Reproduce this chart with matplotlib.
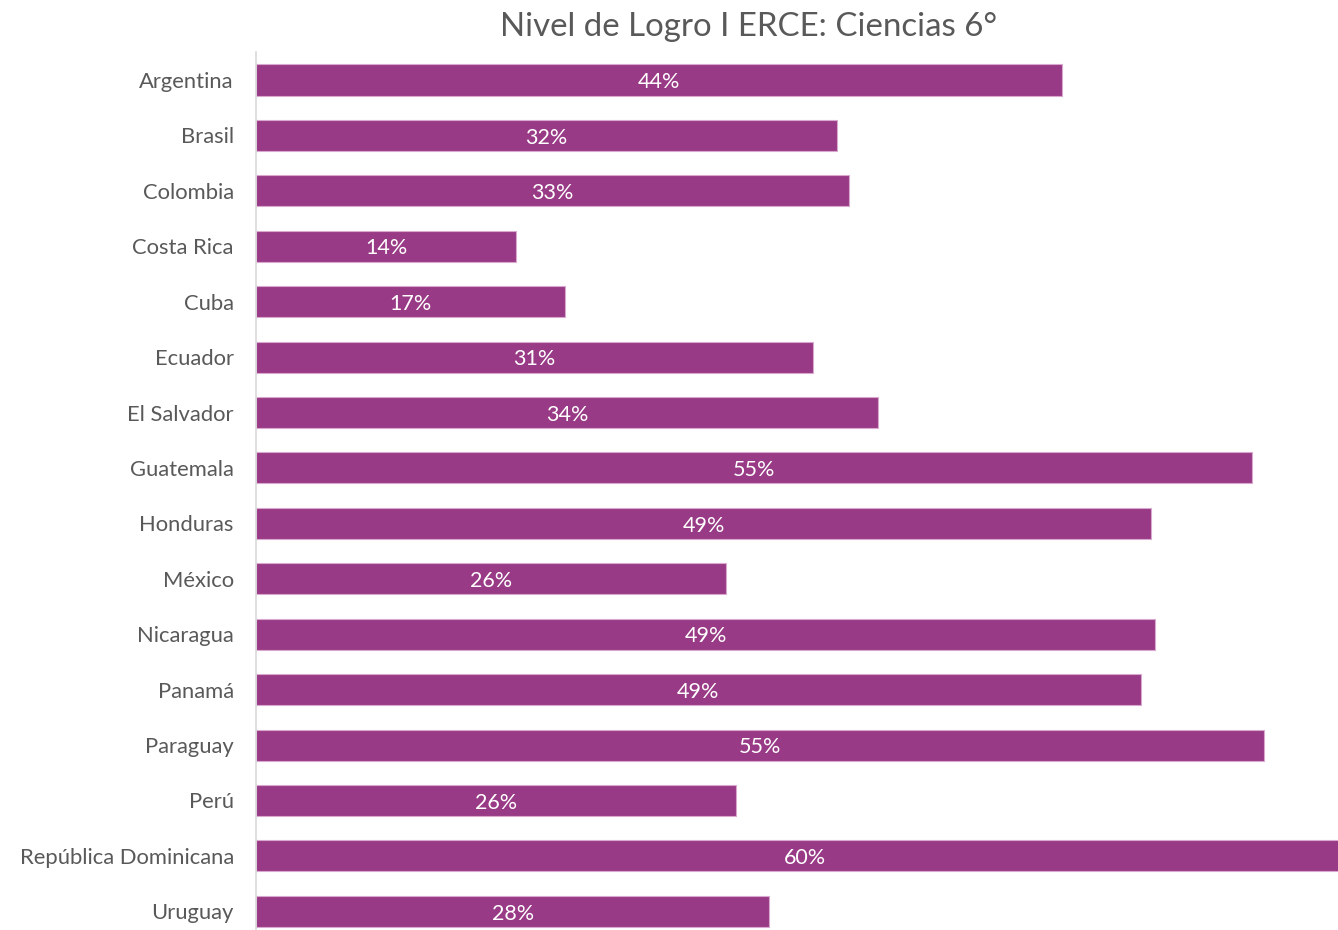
import matplotlib
matplotlib.use('Agg')
import matplotlib.pyplot as plt

# datos
paises = ['Argentina', 'Brasil', 'Colombia', 'Costa Rica', 'Cuba', 'Ecuador',
          'El Salvador', 'Guatemala', 'Honduras', 'México', 'Nicaragua',
          'Panamá', 'Paraguay', 'Perú', 'República Dominicana', 'Uruguay']
logro = [0.443, 0.319, 0.326, 0.143, 0.170, 0.306, 0.342, 0.547, 0.492,
         0.258, 0.494, 0.486, 0.554, 0.264, 0.603, 0.282]

W, H = 1338, 930
fig = plt.figure(figsize=(W / 100, H / 100), dpi=100)
plt.rcParams['font.family'] = ['Lato', 'DejaVu Sans']

# area del grafico en pixeles (la barra mas larga sale del lienzo)
x0, x1 = 256, 1348
y_top, y_bot = 52.3, 939
ax = fig.add_axes([x0 / W, (H - y_bot) / H, (x1 - x0) / W, (y_bot - y_top) / H])

pos = list(range(len(paises)))
ax.barh(pos, logro, height=0.56, color='#993A86',
        edgecolor='#D9A8CF', linewidth=0.8)
for p, v in zip(pos, logro):
    ax.text(v / 2, p + 0.04, '{:.0%}'.format(v), ha='center', va='center',
            color='white', fontsize=15.5)

ax.set_xlim(0, 0.6)
ax.set_ylim(len(paises) - 0.5, -0.5)
ax.set_yticks(pos)
ax.set_yticklabels(paises, fontsize=15.8, color='#595959')
ax.tick_params(axis='y', length=0, pad=16)
ax.set_xticks([])
for s in ['top', 'right', 'bottom']:
    ax.spines[s].set_visible(False)
ax.spines['left'].set_color('#D9D9D9')
ax.spines['left'].set_linewidth(1.2)

fig.text(749 / W, 1 - 27 / H, 'Nivel de Logro I ERCE: Ciencias 6°',
         ha='center', va='center', fontsize=23.8, color='#595959')

fig.savefig('out.png', dpi=100)
